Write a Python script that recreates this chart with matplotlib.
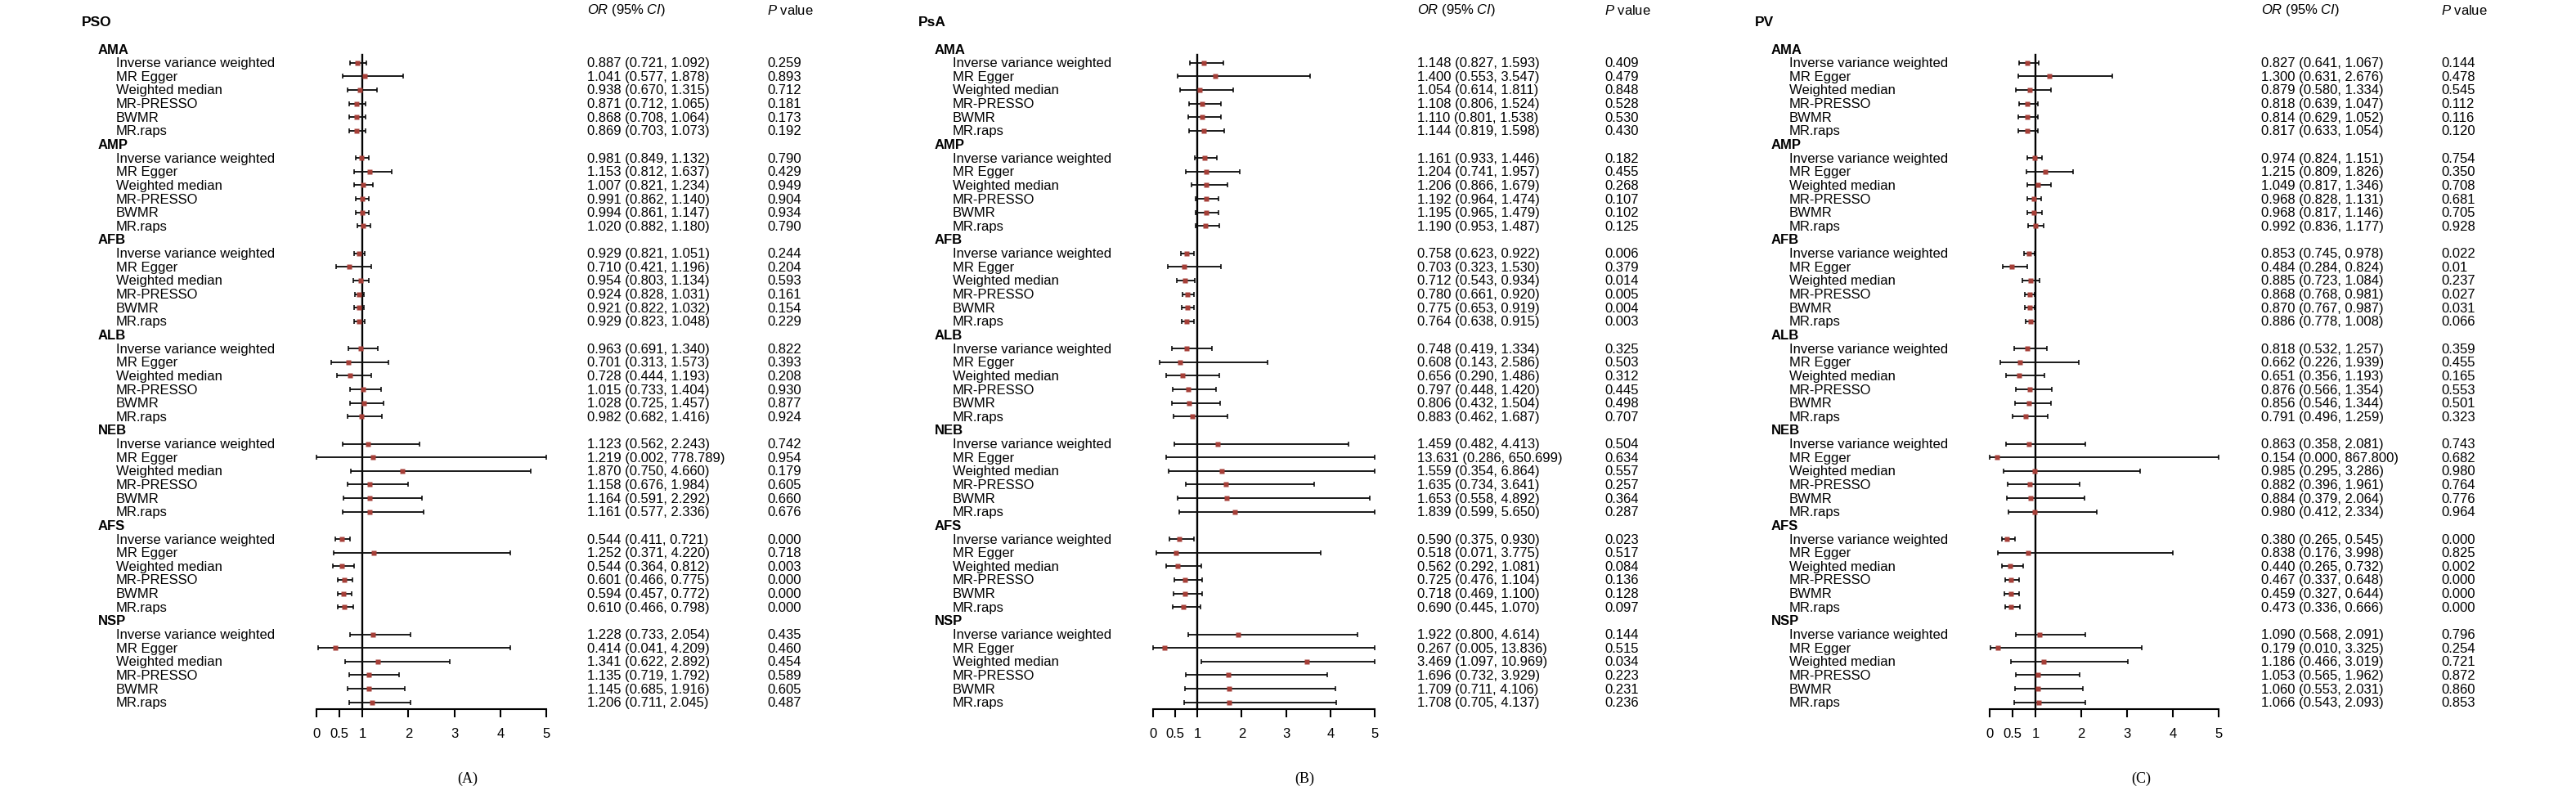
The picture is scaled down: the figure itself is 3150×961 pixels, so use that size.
import numpy as np
import matplotlib
matplotlib.use('Agg')
import matplotlib.pyplot as plt
import matplotlib.transforms as mtransforms

plt.rcParams['font.family'] = ['Liberation Sans', 'DejaVu Sans']
plt.rcParams['mathtext.fontset'] = 'custom'
plt.rcParams['mathtext.rm'] = 'Liberation Sans'
plt.rcParams['mathtext.it'] = 'Liberation Sans:italic'

# ---------------- data ----------------
outcomes = ['PSO', 'PsA', 'PV']
panel_letters = ['(A)', '(B)', '(C)']
exposures = ['AMA', 'AMP', 'AFB', 'ALB', 'NEB', 'AFS', 'NSP']
methods = ['Inverse variance weighted', 'MR Egger', 'Weighted median',
           'MR-PRESSO', 'BWMR', 'MR.raps']
tick_vals = [0, 0.5, 1, 2, 3, 4, 5]
tick_labels = ['0', '0.5', '1', '2', '3', '4', '5']

pso_or = [0.887, 1.041, 0.938, 0.871, 0.868, 0.869,
          0.981, 1.153, 1.007, 0.991, 0.994, 1.020,
          0.929, 0.710, 0.954, 0.924, 0.921, 0.929,
          0.963, 0.701, 0.728, 1.015, 1.028, 0.982,
          1.123, 1.219, 1.870, 1.158, 1.164, 1.161,
          0.544, 1.252, 0.544, 0.601, 0.594, 0.610,
          1.228, 0.414, 1.341, 1.135, 1.145, 1.206]
pso_lo = [0.721, 0.577, 0.670, 0.712, 0.708, 0.703,
          0.849, 0.812, 0.821, 0.862, 0.861, 0.882,
          0.821, 0.421, 0.803, 0.828, 0.822, 0.823,
          0.691, 0.313, 0.444, 0.733, 0.725, 0.682,
          0.562, 0.002, 0.750, 0.676, 0.591, 0.577,
          0.411, 0.371, 0.364, 0.466, 0.457, 0.466,
          0.733, 0.041, 0.622, 0.719, 0.685, 0.711]
pso_hi = [1.092, 1.878, 1.315, 1.065, 1.064, 1.073,
          1.132, 1.637, 1.234, 1.140, 1.147, 1.180,
          1.051, 1.196, 1.134, 1.031, 1.032, 1.048,
          1.340, 1.573, 1.193, 1.404, 1.457, 1.416,
          2.243, 778.789, 4.660, 1.984, 2.292, 2.336,
          0.721, 4.220, 0.812, 0.775, 0.772, 0.798,
          2.054, 4.209, 2.892, 1.792, 1.916, 2.045]
pso_p = ['0.259', '0.893', '0.712', '0.181', '0.173', '0.192',
         '0.790', '0.429', '0.949', '0.904', '0.934', '0.790',
         '0.244', '0.204', '0.593', '0.161', '0.154', '0.229',
         '0.822', '0.393', '0.208', '0.930', '0.877', '0.924',
         '0.742', '0.954', '0.179', '0.605', '0.660', '0.676',
         '0.000', '0.718', '0.003', '0.000', '0.000', '0.000',
         '0.435', '0.460', '0.454', '0.589', '0.605', '0.487']

psa_or = [1.148, 1.400, 1.054, 1.108, 1.110, 1.144,
          1.161, 1.204, 1.206, 1.192, 1.195, 1.190,
          0.758, 0.703, 0.712, 0.780, 0.775, 0.764,
          0.748, 0.608, 0.656, 0.797, 0.806, 0.883,
          1.459, 13.631, 1.559, 1.635, 1.653, 1.839,
          0.590, 0.518, 0.562, 0.725, 0.718, 0.690,
          1.922, 0.267, 3.469, 1.696, 1.709, 1.708]
psa_lo = [0.827, 0.553, 0.614, 0.806, 0.801, 0.819,
          0.933, 0.741, 0.866, 0.964, 0.965, 0.953,
          0.623, 0.323, 0.543, 0.661, 0.653, 0.638,
          0.419, 0.143, 0.290, 0.448, 0.432, 0.462,
          0.482, 0.286, 0.354, 0.734, 0.558, 0.599,
          0.375, 0.071, 0.292, 0.476, 0.469, 0.445,
          0.800, 0.005, 1.097, 0.732, 0.711, 0.705]
psa_hi = [1.593, 3.547, 1.811, 1.524, 1.538, 1.598,
          1.446, 1.957, 1.679, 1.474, 1.479, 1.487,
          0.922, 1.530, 0.934, 0.920, 0.919, 0.915,
          1.334, 2.586, 1.486, 1.420, 1.504, 1.687,
          4.413, 650.699, 6.864, 3.641, 4.892, 5.650,
          0.930, 3.775, 1.081, 1.104, 1.100, 1.070,
          4.614, 13.836, 10.969, 3.929, 4.106, 4.137]
psa_p = ['0.409', '0.479', '0.848', '0.528', '0.530', '0.430',
         '0.182', '0.455', '0.268', '0.107', '0.102', '0.125',
         '0.006', '0.379', '0.014', '0.005', '0.004', '0.003',
         '0.325', '0.503', '0.312', '0.445', '0.498', '0.707',
         '0.504', '0.634', '0.557', '0.257', '0.364', '0.287',
         '0.023', '0.517', '0.084', '0.136', '0.128', '0.097',
         '0.144', '0.515', '0.034', '0.223', '0.231', '0.236']

pv_or = [0.827, 1.300, 0.879, 0.818, 0.814, 0.817,
         0.974, 1.215, 1.049, 0.968, 0.968, 0.992,
         0.853, 0.484, 0.885, 0.868, 0.870, 0.886,
         0.818, 0.662, 0.651, 0.876, 0.856, 0.791,
         0.863, 0.154, 0.985, 0.882, 0.884, 0.980,
         0.380, 0.838, 0.440, 0.467, 0.459, 0.473,
         1.090, 0.179, 1.186, 1.053, 1.060, 1.066]
pv_lo = [0.641, 0.631, 0.580, 0.639, 0.629, 0.633,
         0.824, 0.809, 0.817, 0.828, 0.817, 0.836,
         0.745, 0.284, 0.723, 0.768, 0.767, 0.778,
         0.532, 0.226, 0.356, 0.566, 0.546, 0.496,
         0.358, 0.000, 0.295, 0.396, 0.379, 0.412,
         0.265, 0.176, 0.265, 0.337, 0.327, 0.336,
         0.568, 0.010, 0.466, 0.565, 0.553, 0.543]
pv_hi = [1.067, 2.676, 1.334, 1.047, 1.052, 1.054,
         1.151, 1.826, 1.346, 1.131, 1.146, 1.177,
         0.978, 0.824, 1.084, 0.981, 0.987, 1.008,
         1.257, 1.939, 1.193, 1.354, 1.344, 1.259,
         2.081, 867.800, 3.286, 1.961, 2.064, 2.334,
         0.545, 3.998, 0.732, 0.648, 0.644, 0.666,
         2.091, 3.325, 3.019, 1.962, 2.031, 2.093]
pv_p = ['0.144', '0.478', '0.545', '0.112', '0.116', '0.120',
        '0.754', '0.350', '0.708', '0.681', '0.705', '0.928',
        '0.022', '0.01', '0.237', '0.027', '0.031', '0.066',
        '0.359', '0.455', '0.165', '0.553', '0.501', '0.323',
        '0.743', '0.682', '0.980', '0.764', '0.776', '0.964',
        '0.000', '0.825', '0.002', '0.000', '0.000', '0.000',
        '0.796', '0.254', '0.721', '0.872', '0.860', '0.853']

panels = [(pso_or, pso_lo, pso_hi, pso_p),
          (psa_or, psa_lo, psa_hi, psa_p),
          (pv_or, pv_lo, pv_hi, pv_p)]

# ---------------- layout (pixels) ----------------
W, H = 3150, 962
DPI = 100
layout = [
    dict(title=100, group=120, method=142, a0=387, a1=668, orc=718, pc=938, letter=572),
    dict(title=1123, group=1143, method=1165, a0=1410, a1=1681, orc=1733, pc=1962, letter=1595),
    dict(title=2146, group=2166, method=2188, a0=2433, a1=2713, orc=2765, pc=2985, letter=2618),
]
ROW0 = 61.0      # y px of first row (header AMA)
ROWH = 16.64     # row height px
AXIS_Y = 868.0
FS = 12

fig = plt.figure(figsize=(W / DPI, H / DPI), dpi=DPI)
fig.patch.set_facecolor('white')


def fx(px):
    return px / W


def fy(py):
    return 1 - py / H


ybot = (AXIS_Y - ROW0) / ROWH
ytop = -0.5

for k, (orv, lov, hiv, pv) in enumerate(panels):
    L = layout[k]
    ax_top_px = ROW0 + ytop * ROWH
    ax = fig.add_axes([fx(L['a0']), fy(AXIS_Y), (L['a1'] - L['a0']) / W,
                       (AXIS_Y - ax_top_px) / H])
    ax.set_xlim(0, 5)
    ax.set_ylim(ybot, ytop)
    for s in ['top', 'right', 'left']:
        ax.spines[s].set_visible(False)
    ax.spines['bottom'].set_linewidth(1.5)
    ax.spines['bottom'].set_bounds(0, 5)
    ax.set_yticks([])
    ax.set_xticks(tick_vals, tick_labels)
    ax.tick_params(axis='x', direction='out', length=7, width=1.5, pad=9,
                   labelsize=FS)
    ax.patch.set_alpha(0)

    orv = np.asarray(orv, float)
    lov = np.asarray(lov, float)
    hiv = np.asarray(hiv, float)
    ng = len(exposures)
    nm = len(methods)
    rows = np.array([g * (nm + 1) + 1 + m for g in range(ng) for m in range(nm)], float)
    hdr_rows = np.array([g * (nm + 1) for g in range(ng)], float)

    # reference line at OR = 1
    ax.plot([1, 1], [0.42, ybot], color='black', lw=1.7, clip_on=False, zorder=2)

    lo_c = np.clip(lov, 0, 5)
    hi_c = np.clip(hiv, 0, 5)
    ax.hlines(rows, lo_c, hi_c, color='#111111', lw=1.35, zorder=2)
    ax.plot(lo_c, rows, ls='none', marker='|', ms=3.8, mew=1.1, color='black',
            clip_on=False, zorder=2)
    ax.plot(hi_c, rows, ls='none', marker='|', ms=3.8, mew=1.1, color='black',
            clip_on=False, zorder=2)
    vis = (orv >= 0) & (orv <= 5)
    ax.plot(orv[vis], rows[vis], ls='none', marker='s', ms=4.3, color='#A63F38',
            mec='none', zorder=3)

    tr = mtransforms.blended_transform_factory(fig.transFigure, ax.transData)
    for g, r in enumerate(hdr_rows):
        ax.text(fx(L['group']), r, exposures[g], transform=tr, ha='left',
                va='center', fontsize=FS, fontweight='bold')
    for i, r in enumerate(rows):
        ax.text(fx(L['method']), r, methods[i % nm], transform=tr, ha='left',
                va='center', fontsize=FS)
        ax.text(fx(L['orc']), r, f"{orv[i]:.3f} ({lov[i]:.3f}, {hiv[i]:.3f})",
                transform=tr, ha='left', va='center', fontsize=FS)
        ax.text(fx(L['pc']), r, pv[i], transform=tr, ha='left', va='center',
                fontsize=FS)

    fig.text(fx(L['title']), fy(27), outcomes[k], ha='left', va='center',
             fontsize=12.5, fontweight='bold')
    fig.text(fx(L['orc']), fy(12.5), r'$\mathit{OR}$ (95% $\mathit{CI}$)',
             ha='left', va='center', fontsize=FS)
    fig.text(fx(L['pc']), fy(12.5), r'$\mathit{P}$ value', ha='left',
             va='center', fontsize=FS)
    fig.text(fx(L['letter']), fy(952), panel_letters[k], ha='center',
             va='center', fontsize=13, family='Liberation Serif')

fig.savefig('out.png', dpi=DPI, facecolor='white')
